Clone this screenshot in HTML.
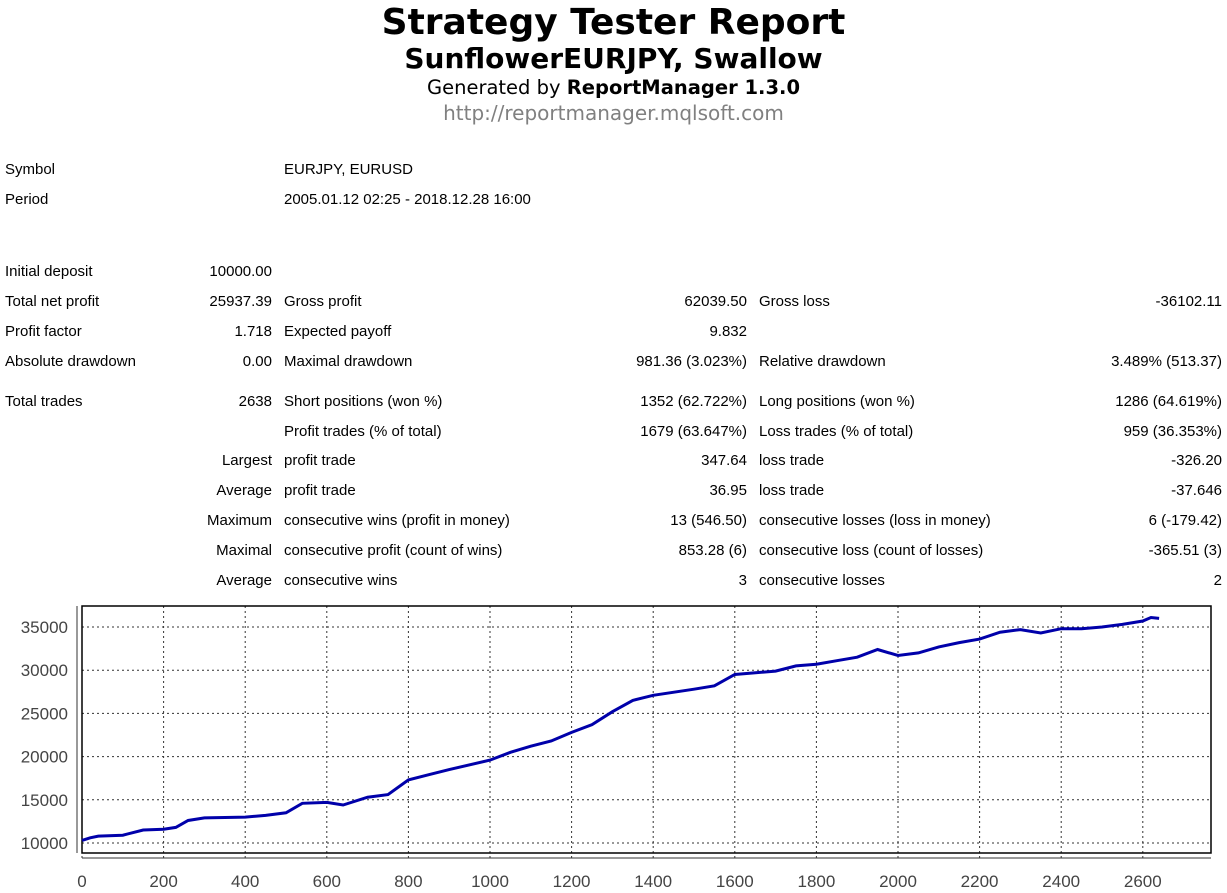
<!DOCTYPE html>
<html><head><meta charset="utf-8"><style>
body{margin:0;width:1227px;height:893px;background:#fff;font-family:"Liberation Sans",sans-serif;color:#000;position:relative;overflow:hidden}
.t{position:absolute;white-space:nowrap;font-size:15px;line-height:18px}
.r{text-align:right}
.c{position:absolute;left:0;width:1227px;text-align:center;white-space:nowrap;font-family:"DejaVu Sans",sans-serif}
</style></head><body>
<div class="c" style="top:1px;font-size:36px;font-weight:bold;line-height:44px">Strategy Tester Report</div>
<div class="c" style="top:42px;font-size:28px;font-weight:bold;line-height:34px">SunflowerEURJPY, Swallow</div>
<div class="c" style="top:76px;font-size:19.5px;line-height:24px">Generated by <b>ReportManager 1.3.0</b></div>
<div class="c" style="top:101px;font-size:20px;line-height:24px;color:#808080">http://reportmanager.mqlsoft.com</div>
<div id="tbl"></div>
<svg id="ch" width="1227" height="893" style="position:absolute;left:0;top:0"></svg>
<script>
var rows=[
[168,"Symbol","","EURJPY, EURUSD","","",""],
[198,"Period","","2005.01.12 02:25 - 2018.12.28 16:00","","",""],
[270,"Initial deposit","10000.00","","","",""],
[300,"Total net profit","25937.39","Gross profit","62039.50","Gross loss","-36102.11"],
[330,"Profit factor","1.718","Expected payoff","9.832","",""],
[360,"Absolute drawdown","0.00","Maximal drawdown","981.36 (3.023%)","Relative drawdown","3.489% (513.37)"],
[400,"Total trades","2638","Short positions (won %)","1352 (62.722%)","Long positions (won %)","1286 (64.619%)"],
[430,"","","Profit trades (% of total)","1679 (63.647%)","Loss trades (% of total)","959 (36.353%)"],
[459,"","Largest","profit trade","347.64","loss trade","-326.20"],
[489,"","Average","profit trade","36.95","loss trade","-37.646"],
[519,"","Maximum","consecutive wins (profit in money)","13 (546.50)","consecutive losses (loss in money)","6 (-179.42)"],
[549,"","Maximal","consecutive profit (count of wins)","853.28 (6)","consecutive loss (count of losses)","-365.51 (3)"],
[579,"","Average","consecutive wins","3","consecutive losses","2"]];
var h="";
rows.forEach(function(r){var y=r[0]-7;
if(r[1])h+='<div class="t" style="left:5px;top:'+y+'px">'+r[1]+'</div>';
if(r[2])h+='<div class="t r" style="right:'+(1227-272)+'px;top:'+y+'px">'+r[2]+'</div>';
if(r[3])h+='<div class="t" style="left:284px;top:'+y+'px">'+r[3]+'</div>';
if(r[4])h+='<div class="t r" style="right:'+(1227-747)+'px;top:'+y+'px">'+r[4]+'</div>';
if(r[5])h+='<div class="t" style="left:759px;top:'+y+'px">'+r[5]+'</div>';
if(r[6])h+='<div class="t r" style="right:'+(1227-1222)+'px;top:'+y+'px">'+r[6]+'</div>';});
document.getElementById('tbl').innerHTML=h;
function X(i){return 82+i*0.408}function Y(v){return 843-(v-10000)*0.00864}
var s='<line x1="77" y1="606" x2="77" y2="853" stroke="#999" stroke-width="2"/><line x1="82" y1="858" x2="1211" y2="858" stroke="#999" stroke-width="2"/>';
for(var v=10000;v<=35000;v+=5000){var y=Y(v);s+='<line x1="82" y1="'+y+'" x2="1211" y2="'+y+'" stroke="#333" stroke-dasharray="2,3"/><text x="68" y="'+(y+6)+'" text-anchor="end" font-size="17" fill="#444" font-family="Liberation Sans">'+v+'</text>';}
for(var i=0;i<=2600;i+=200){var x=X(i);s+='<line x1="'+x+'" y1="606" x2="'+x+'" y2="858" stroke="#333" stroke-dasharray="2,3"/><text x="'+x+'" y="887" text-anchor="middle" font-size="17" fill="#444" font-family="Liberation Sans">'+i+'</text>';}
s+='<rect x="82" y="606" width="1129" height="247" fill="none" stroke="#000" stroke-width="1.5"/>';
var d=[[0,10300],[20,10600],[40,10800],[100,10900],[150,11500],[200,11600],[230,11800],[260,12600],[300,12900],[400,13000],[450,13200],[500,13500],[540,14600],[600,14700],[640,14400],[700,15300],[750,15600],[800,17300],[850,17900],[900,18500],[1000,19600],[1050,20500],[1100,21200],[1150,21800],[1200,22800],[1250,23700],[1300,25200],[1350,26500],[1400,27100],[1500,27800],[1550,28200],[1600,29500],[1700,29900],[1750,30500],[1800,30700],[1850,31100],[1900,31500],[1950,32400],[2000,31700],[2050,32000],[2100,32700],[2150,33200],[2200,33600],[2250,34400],[2300,34700],[2350,34300],[2400,34800],[2450,34800],[2500,35000],[2550,35300],[2600,35700],[2620,36100],[2640,36000]];
var p=d.map(function(a){return X(a[0]).toFixed(1)+','+Y(a[1]).toFixed(1)}).join(' ');
s+='<polyline points="'+p+'" fill="none" stroke="#0000aa" stroke-width="3"/>';
document.getElementById('ch').innerHTML=s;
</script>
</body></html>
